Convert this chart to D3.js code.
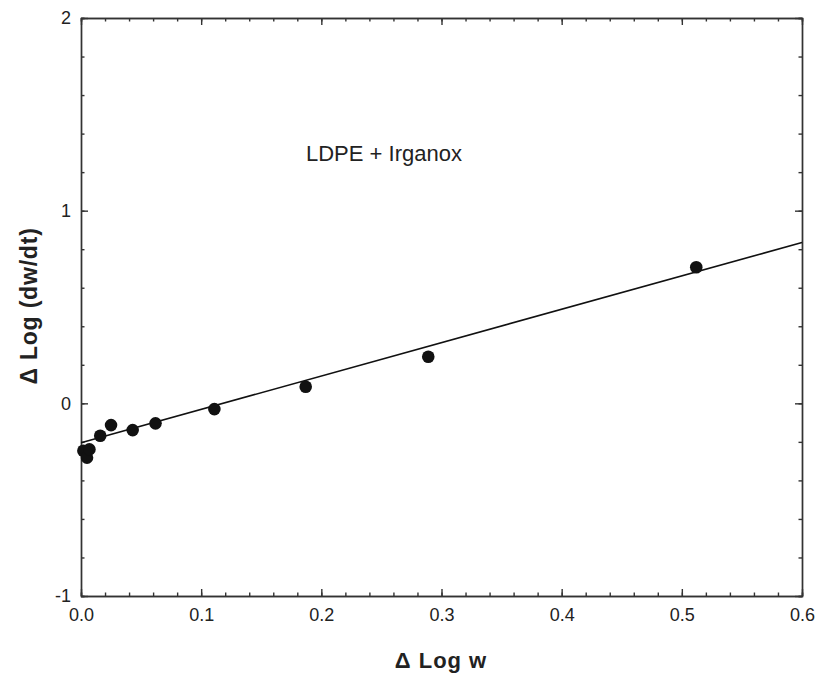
<!DOCTYPE html>
<html>
<head>
<meta charset="utf-8">
<script src="https://cdn.jsdelivr.net/npm/d3@7"></script>
<style>
  body { margin: 0; background: #fff; }
  svg { display: block; font-family: "Liberation Sans", Arial, sans-serif; }
</style>
</head>
<body>
<div id="chart"></div>
<script>
"use strict";

const deltaLogW = [0.002, 0.005, 0.007, 0.016, 0.025, 0.043, 0.062, 0.111, 0.187, 0.289, 0.512];
const deltaLogRate = [-0.246, -0.282, -0.239, -0.168, -0.113, -0.139, -0.104, -0.030, 0.086, 0.242, 0.706];

// linear fit drawn through the points
const fitIntercept = -0.205;
const fitSlope = 1.733;

const xMajorTicks = [0, 0.1, 0.2, 0.3, 0.4, 0.5, 0.6];
const yMajorTicks = [-1, 0, 1, 2];
const xMinorTicks = d3.range(0, 0.601, 0.02);
const yMinorTicks = d3.range(-1, 2.001, 0.2);

const width = 817;
const height = 676;
const plotLeft = 81, plotRight = 802, plotTop = 18, plotBottom = 596;

const svg = d3.select("#chart")
  .append("svg")
  .attr("width", width)
  .attr("height", height);

const xScale = d3.scaleLinear().domain([0, 0.6]).range([plotLeft, plotRight]);
const yScale = d3.scaleLinear().domain([-1, 2]).range([plotBottom, plotTop]);

const axisColor = "#333";

function styleAxis(g) {
  g.selectAll("path, line").attr("stroke", axisColor).attr("stroke-width", 1.4);
  g.selectAll("text").attr("fill", "#222").attr("font-size", 18);
}

// minor ticks (inward, all four sides)
svg.append("g")
  .attr("transform", `translate(0,${plotBottom})`)
  .call(d3.axisBottom(xScale).tickValues(xMinorTicks).tickSize(-3.5).tickFormat(""))
  .call(styleAxis);
svg.append("g")
  .attr("transform", `translate(0,${plotTop})`)
  .call(d3.axisTop(xScale).tickValues(xMinorTicks).tickSize(-3.5).tickFormat(""))
  .call(styleAxis);
svg.append("g")
  .attr("transform", `translate(${plotLeft},0)`)
  .call(d3.axisLeft(yScale).tickValues(yMinorTicks).tickSize(-3.5).tickFormat(""))
  .call(styleAxis);
svg.append("g")
  .attr("transform", `translate(${plotRight},0)`)
  .call(d3.axisRight(yScale).tickValues(yMinorTicks).tickSize(-3.5).tickFormat(""))
  .call(styleAxis);

// major ticks
svg.append("g")
  .attr("transform", `translate(0,${plotBottom})`)
  .call(d3.axisBottom(xScale).tickValues(xMajorTicks).tickSize(-7).tickSizeOuter(0)
    .tickPadding(12).tickFormat(d => d.toFixed(1)))
  .call(styleAxis);
svg.append("g")
  .attr("transform", `translate(0,${plotTop})`)
  .call(d3.axisTop(xScale).tickValues(xMajorTicks).tickSize(-7).tickSizeOuter(0).tickFormat(""))
  .call(styleAxis);
svg.append("g")
  .attr("transform", `translate(${plotLeft},0)`)
  .call(d3.axisLeft(yScale).tickValues(yMajorTicks).tickSize(-7).tickSizeOuter(0)
    .tickPadding(10).tickFormat(d => String(d)))
  .call(styleAxis);
svg.append("g")
  .attr("transform", `translate(${plotRight},0)`)
  .call(d3.axisRight(yScale).tickValues(yMajorTicks).tickSize(-7).tickSizeOuter(0).tickFormat(""))
  .call(styleAxis);

// fit line
const xDom = xScale.domain();
svg.append("line")
  .attr("x1", xScale(xDom[0]))
  .attr("y1", yScale(fitIntercept + fitSlope * xDom[0]))
  .attr("x2", xScale(xDom[1]))
  .attr("y2", yScale(fitIntercept + fitSlope * xDom[1]))
  .attr("stroke", "#111")
  .attr("stroke-width", 1.6);

// points
svg.selectAll("circle.dot")
  .data(deltaLogW)
  .enter()
  .append("circle")
  .attr("class", "dot")
  .attr("cx", d => xScale(d))
  .attr("cy", (d, i) => yScale(deltaLogRate[i]))
  .attr("r", 6.3)
  .attr("fill", "#111");

// annotation
svg.append("text")
  .attr("x", 306)
  .attr("y", 161)
  .attr("font-size", 22)
  .attr("fill", "#222")
  .text("LDPE + Irganox");

// axis titles
svg.append("text")
  .attr("x", 441)
  .attr("y", 668)
  .attr("text-anchor", "middle")
  .attr("font-size", 22)
  .attr("font-weight", "bold")
  .attr("letter-spacing", 1)
  .attr("fill", "#222")
  .text("\u0394 Log w");

svg.append("text")
  .attr("transform", `translate(37,306)rotate(-90)`)
  .attr("text-anchor", "middle")
  .attr("font-size", 23)
  .attr("font-weight", "bold")
  .attr("letter-spacing", 0.8)
  .attr("fill", "#222")
  .text("\u0394 Log (dw/dt)");
</script>
</body>
</html>
